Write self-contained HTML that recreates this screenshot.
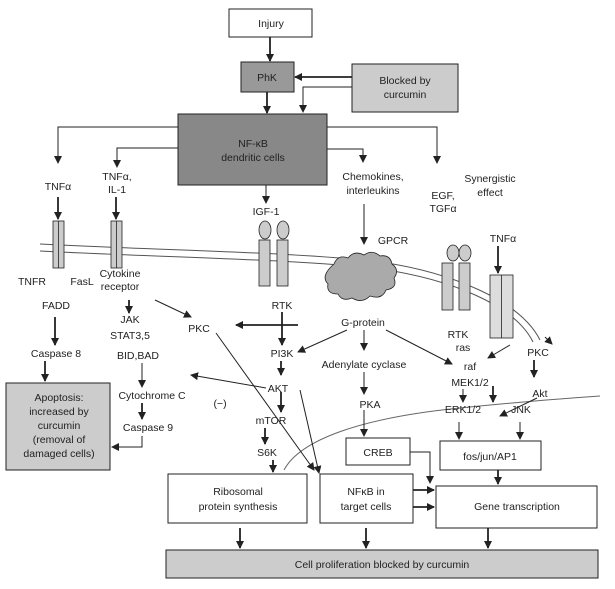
<!DOCTYPE html>
<html><head><meta charset="utf-8"><style>
html,body{margin:0;padding:0;background:#fff}
svg{display:block}
text{font-family:"Liberation Sans",sans-serif;font-size:10.5px;fill:#222;text-anchor:middle}
</style></head><body>
<svg width="615" height="589" viewBox="0 0 615 589" xmlns="http://www.w3.org/2000/svg">
<defs>
<marker id="a" markerWidth="8" markerHeight="8" refX="7" refY="4" orient="auto" markerUnits="userSpaceOnUse"><path d="M0,0 L8,4 L0,8 Z" fill="#222"/></marker>
</defs>
<g stroke="#222" fill="none">
<path d="M40,244 C150,250 300,252 380,262 C450,272 520,300 540,340" stroke="#555"/>
<path d="M40,251 C150,257 300,259 380,269 C450,279 515,305 533,342" stroke="#555"/>
<path d="M284,470 C300,440 360,418 460,408 C520,402 570,398 600,396" stroke="#666"/>
</g>
<g stroke="#222" stroke-width="1">
<rect x="229" y="9" width="83" height="28" fill="#fff"/>
<rect x="241" y="62" width="53" height="30" fill="#999"/>
<rect x="352" y="64" width="106" height="48" fill="#ccc"/>
<rect x="178" y="114" width="149" height="71" fill="#888"/>
<rect x="6" y="383" width="104" height="87" fill="#ccc"/>
<rect x="346" y="438" width="64" height="27" fill="#fff"/>
<rect x="440" y="441" width="101" height="29" fill="#fff"/>
<rect x="168" y="474" width="139" height="49" fill="#fff"/>
<rect x="320" y="474" width="93" height="49" fill="#fff"/>
<rect x="436" y="486" width="161" height="42" fill="#fff"/>
<rect x="166" y="550" width="432" height="28" fill="#ccc"/>
</g>
<g stroke="#222" fill="#ccc" stroke-width="0.8">
<rect x="53" y="221" width="11" height="47"/><line x1="58.5" y1="221" x2="58.5" y2="268"/>
<rect x="111" y="221" width="11" height="47"/><line x1="116.5" y1="221" x2="116.5" y2="268"/>
<ellipse cx="265" cy="230" rx="6" ry="9"/><ellipse cx="283" cy="230" rx="6" ry="9"/>
<rect x="259" y="240" width="11" height="46"/><rect x="277" y="240" width="11" height="46"/>
<ellipse cx="453" cy="253" rx="6" ry="8"/><ellipse cx="465" cy="253" rx="6" ry="8"/>
<rect x="442" y="263" width="11" height="47"/><rect x="459" y="263" width="11" height="47"/>
<rect x="490" y="275" width="23" height="63" fill="#ddd"/><line x1="501.5" y1="275" x2="501.5" y2="338"/>
<path d="M334,264 q4,-10 14,-6 q6,-8 16,-3 q8,-6 16,1 q10,-2 12,8 q8,6 2,14 q4,10 -8,12 q-4,10 -16,6 q-8,8 -18,2 q-10,4 -14,-4 q-12,0 -10,-10 q-8,-8 6,-20 Z" fill="#aaa"/>
</g>
<g stroke="#222" fill="none" stroke-width="1.8" marker-end="url(#a)">
<line x1="270" y1="37" x2="270" y2="61"/>
<line x1="352" y1="77" x2="295" y2="77"/>
<line x1="267" y1="92" x2="267" y2="113"/>
<line x1="58" y1="197" x2="58" y2="219"/>
<line x1="116" y1="197" x2="116" y2="219"/>
<line x1="55" y1="317" x2="55" y2="345"/>
<line x1="45" y1="361" x2="45" y2="381"/>
<line x1="129" y1="300" x2="129" y2="313"/>
<line x1="142" y1="403" x2="142" y2="419"/>
<line x1="282" y1="312" x2="282" y2="345"/>
<line x1="281" y1="361" x2="281" y2="375"/>
<line x1="281" y1="392" x2="281" y2="412"/>
<line x1="265" y1="428" x2="265" y2="444"/>
<line x1="273" y1="460" x2="273" y2="472"/>
<line x1="298" y1="325" x2="236" y2="325"/>
<line x1="534" y1="360" x2="534" y2="377"/>
<line x1="493" y1="386" x2="493" y2="402"/>
<line x1="498" y1="246" x2="498" y2="273"/>
<line x1="498" y1="470" x2="498" y2="484"/>
<line x1="240" y1="528" x2="240" y2="548"/>
<line x1="366" y1="528" x2="366" y2="548"/>
<line x1="488" y1="528" x2="488" y2="548"/>
<line x1="413" y1="490" x2="434" y2="490"/>
<line x1="413" y1="507" x2="434" y2="507"/>
</g>
<g stroke="#222" fill="none" stroke-width="1" marker-end="url(#a)">
<path d="M352,87 H303 V112"/>
<path d="M178,127 H58 V163"/>
<path d="M178,148 H117 V167"/>
<path d="M327,127 H437 V163"/>
<path d="M327,149 H363 V162"/>
<path d="M266,185 V203"/>
<line x1="364" y1="204" x2="364" y2="244"/>
<line x1="155" y1="300" x2="191" y2="317"/>
<line x1="142" y1="363" x2="142" y2="387"/>
<path d="M142,436 V447 H112"/>
<line x1="266" y1="388" x2="191" y2="375"/>
<line x1="216" y1="333" x2="314" y2="470"/>
<line x1="300" y1="390" x2="319" y2="473"/>
<line x1="347" y1="330" x2="298" y2="352"/>
<line x1="364" y1="330" x2="364" y2="350"/>
<line x1="386" y1="330" x2="452" y2="364"/>
<line x1="364" y1="372" x2="364" y2="394"/>
<line x1="364" y1="410" x2="364" y2="436"/>
<line x1="510" y1="345" x2="488" y2="358"/>
<line x1="463" y1="389" x2="463" y2="402"/>
<line x1="537" y1="398" x2="500" y2="416"/>
<line x1="459" y1="422" x2="459" y2="439"/>
<line x1="520" y1="422" x2="520" y2="439"/>
<path d="M410,452 H430 V483"/>
<line x1="545" y1="337" x2="552" y2="344"/>
</g>
<text x="271" y="27">Injury</text>
<text x="267" y="81">PhK</text>
<text x="405" y="84">Blocked by</text><text x="405" y="98">curcumin</text>
<text x="253" y="147" fill="#111">NF-κB</text><text x="253" y="161">dendritic cells</text>
<text x="58" y="190">TNFα</text>
<text x="117" y="180">TNFα,</text><text x="117" y="193">IL-1</text>
<text x="266" y="215">IGF-1</text>
<text x="373" y="180">Chemokines,</text><text x="373" y="194">interleukins</text>
<text x="443" y="199">EGF,</text><text x="443" y="212">TGFα</text>
<text x="490" y="182">Synergistic</text><text x="490" y="196">effect</text>
<text x="393" y="244">GPCR</text>
<text x="503" y="242">TNFα</text>
<text x="32" y="285">TNFR</text><text x="82" y="285">FasL</text>
<text x="120" y="277">Cytokine</text><text x="120" y="290">receptor</text>
<text x="56" y="309">FADD</text>
<text x="130" y="323">JAK</text><text x="130" y="339">STAT3,5</text>
<text x="138" y="359">BID,BAD</text>
<text x="199" y="332">PKC</text>
<text x="282" y="309">RTK</text>
<text x="363" y="326">G-protein</text>
<text x="458" y="338">RTK</text><text x="463" y="351">ras</text>
<text x="56" y="357">Caspase 8</text>
<text x="282" y="357">PI3K</text>
<text x="364" y="368">Adenylate cyclase</text>
<text x="470" y="370">raf</text>
<text x="538" y="356">PKC</text>
<text x="470" y="386">MEK1/2</text>
<text x="278" y="392">AKT</text>
<text x="152" y="399">Cytochrome C</text>
<text x="220" y="407">(−)</text>
<text x="540" y="397">Akt</text>
<text x="370" y="408">PKA</text>
<text x="463" y="413">ERK1/2</text>
<text x="521" y="413">JNK</text>
<text x="271" y="424">mTOR</text>
<text x="148" y="431">Caspase 9</text>
<text x="59" y="401">Apoptosis:</text><text x="59" y="415">increased by</text><text x="59" y="429">curcumin</text><text x="59" y="443">(removal of</text><text x="59" y="457">damaged cells)</text>
<text x="378" y="456">CREB</text>
<text x="490" y="460">fos/jun/AP1</text>
<text x="267" y="456">S6K</text>
<text x="238" y="495">Ribosomal</text><text x="238" y="510">protein synthesis</text>
<text x="366" y="495">NFκB in</text><text x="366" y="510">target cells</text>
<text x="517" y="510">Gene transcription</text>
<text x="382" y="568">Cell proliferation blocked by curcumin</text>
</svg>
</body></html>
